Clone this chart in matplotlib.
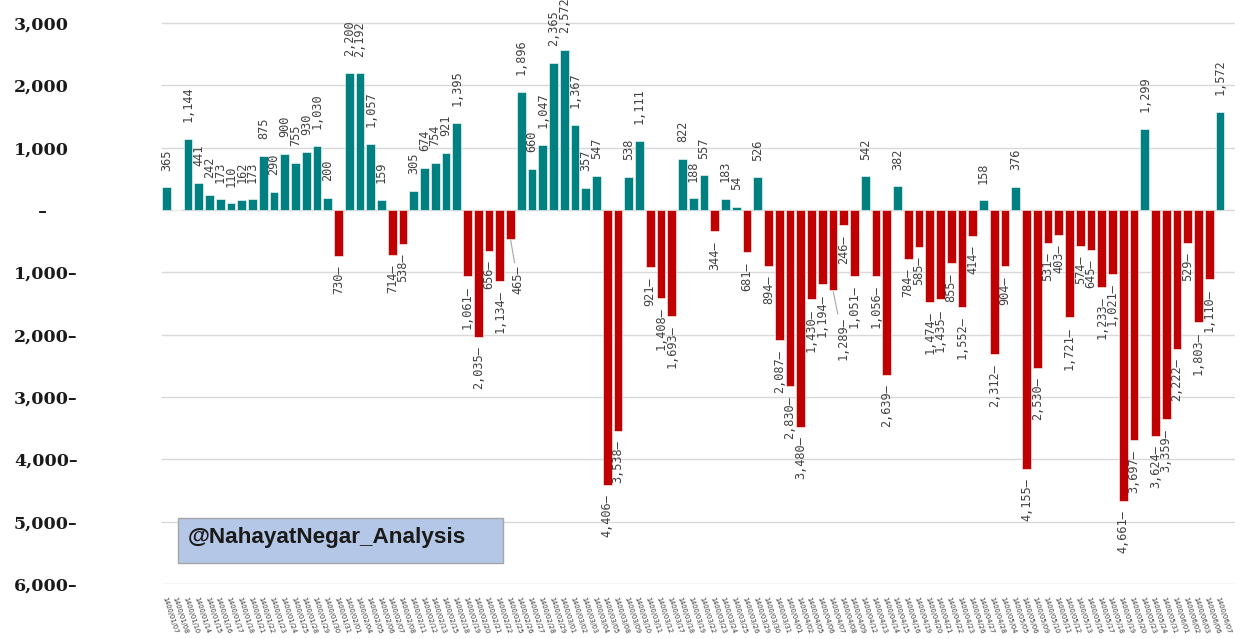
import matplotlib.pyplot as plt
from matplotlib.patches import Rectangle
import numpy as np

plt.rcParams['font.family'] = 'DejaVu Sans'

# trading days (Jalali calendar) and net values
dates = [
    '1400/01/07', '1400/01/08', '1400/01/10', '1400/01/14', '1400/01/15', '1400/01/16',
    '1400/01/17', '1400/01/18', '1400/01/21', '1400/01/22', '1400/01/23', '1400/01/24',
    '1400/01/25', '1400/01/28', '1400/01/29', '1400/01/30', '1400/01/31',
    '1400/02/01', '1400/02/04', '1400/02/05', '1400/02/06', '1400/02/07', '1400/02/08',
    '1400/02/11', '1400/02/12', '1400/02/13', '1400/02/15', '1400/02/18', '1400/02/19',
    '1400/02/20', '1400/02/21', '1400/02/22', '1400/02/25', '1400/02/26', '1400/02/27',
    '1400/02/28', '1400/02/29',
    '1400/03/01', '1400/03/02', '1400/03/03', '1400/03/04', '1400/03/05', '1400/03/08',
    '1400/03/09', '1400/03/10', '1400/03/11', '1400/03/12', '1400/03/17', '1400/03/18',
    '1400/03/19', '1400/03/22', '1400/03/23', '1400/03/24', '1400/03/25', '1400/03/26',
    '1400/03/29', '1400/03/30', '1400/03/31',
    '1400/04/01', '1400/04/02', '1400/04/05', '1400/04/06', '1400/04/07', '1400/04/08',
    '1400/04/09', '1400/04/12', '1400/04/13', '1400/04/14', '1400/04/15', '1400/04/16',
    '1400/04/19', '1400/04/20', '1400/04/21', '1400/04/22', '1400/04/23', '1400/04/26',
    '1400/04/27', '1400/04/28',
    '1400/05/04', '1400/05/05', '1400/05/06', '1400/05/09', '1400/05/10', '1400/05/11',
    '1400/05/12', '1400/05/13', '1400/05/16', '1400/05/17', '1400/05/18', '1400/05/19',
    '1400/05/20', '1400/05/23', '1400/05/24', '1400/05/31',
    '1400/06/01', '1400/06/02', '1400/06/03', '1400/06/06', '1400/06/07',
]

values = [
    365, 0, 1144, 441, 242, 173, 110, 162, 173, 875,
    290, 900, 755, 930, 1030, 200, -730, 2200, 2192, 1057,
    159, -714, -538, 305, 674, 754, 921, 1395, -1061, -2035,
    -656, -1134, -465, 1896, 660, 1047, 2365, 2572, 1367, 357,
    547, -4406, -3538, 538, 1111, -921, -1408, -1693, 822, 188,
    557, -344, 183, 54, -681, 526, -894, -2087, -2830, -3480,
    -1430, -1194, -1289, -246, -1051, 542, -1056, -2639, 382, -784,
    -585, -1474, -1435, -855, -1552, -414, 158, -2312, -904, 376,
    -4155, -2530, -531, -403, -1721, -574, -645, -1233, -1021, -4661,
    -3697, 1299, -3624, -3359, -2222, -529, -1803, -1110, 1572,
]

yticks = [-6000, -5000, -4000, -3000, -2000, -1000, 0, 1000, 2000, 3000]
watermark = '@NahayatNegar_Analysis'


def fmt(v):
    if v > 0:
        return f'{v:,}'
    if v < 0:
        return f'{-v:,}\u2013'
    return '\u2007\u2007\u2013'


W, H = 1241, 639
fig = plt.figure(figsize=(W / 100, H / 100), dpi=100)
ax = fig.add_axes([162 / W, 1 - 584 / H, (1235 - 162) / W, 584 / H])

x = np.arange(len(values))
colors = ['#008080' if v >= 0 else '#C00000' for v in values]
ax.bar(x, values, width=0.8, color=colors, edgecolor='white', linewidth=0.4, zorder=2)

ax.set_xlim(-0.42, len(values) - 1 + 1.4)
ax.set_ylim(-6000, 3370)

ax.set_yticks(yticks)
ax.set_yticklabels([fmt(v) for v in yticks], ha='left', fontfamily='DejaVu Serif',
                   fontweight='bold', fontsize=12.5, color='#1a1a1a')
ax.tick_params(axis='y', length=0, pad=106.5)

ax.set_xticks(x)
ax.set_xticklabels(dates, rotation=-72, ha='left', va='top', rotation_mode='anchor',
                   fontsize=4.8, color='#333333')
ax.tick_params(axis='x', length=0, pad=9)

ax.yaxis.grid(True, color='#d9d9d9', linewidth=1)
ax.set_axisbelow(True)
for s in ax.spines.values():
    s.set_visible(False)

# labels moved off their bars, drawn with a leader line
moved = {32: (5, -19), 62: (7, -19)}

for i, v in enumerate(values):
    if v == 0:
        continue
    kw = dict(textcoords='offset points', rotation=90, ha='center',
              fontsize=8.6, family='DejaVu Sans Mono', color='#404040',
              annotation_clip=False, zorder=4)
    if v > 0:
        ax.annotate(fmt(v), (i, v), xytext=(0, 12), va='bottom', **kw)
    elif i in moved:
        ax.annotate(fmt(v), (i, v), xytext=moved[i], va='top',
                    arrowprops=dict(arrowstyle='-', color='#a6a6a6', lw=0.8,
                                    shrinkA=0, shrinkB=1), **kw)
    else:
        ax.annotate(fmt(v), (i, v), xytext=(0, -7), va='top', **kw)

fig.add_artist(Rectangle((178 / W, 1 - 563 / H), 325 / W, 45 / H, transform=fig.transFigure,
                         facecolor='#B4C7E7', edgecolor='#A6A6A6', linewidth=1, zorder=5))
fig.text(188 / W, 1 - 538 / H, watermark, ha='left', va='center', fontsize=16.2,
         fontweight='bold', family='Liberation Sans', color='#1a1a1a', zorder=6)

fig.savefig('out.png', dpi=100)
